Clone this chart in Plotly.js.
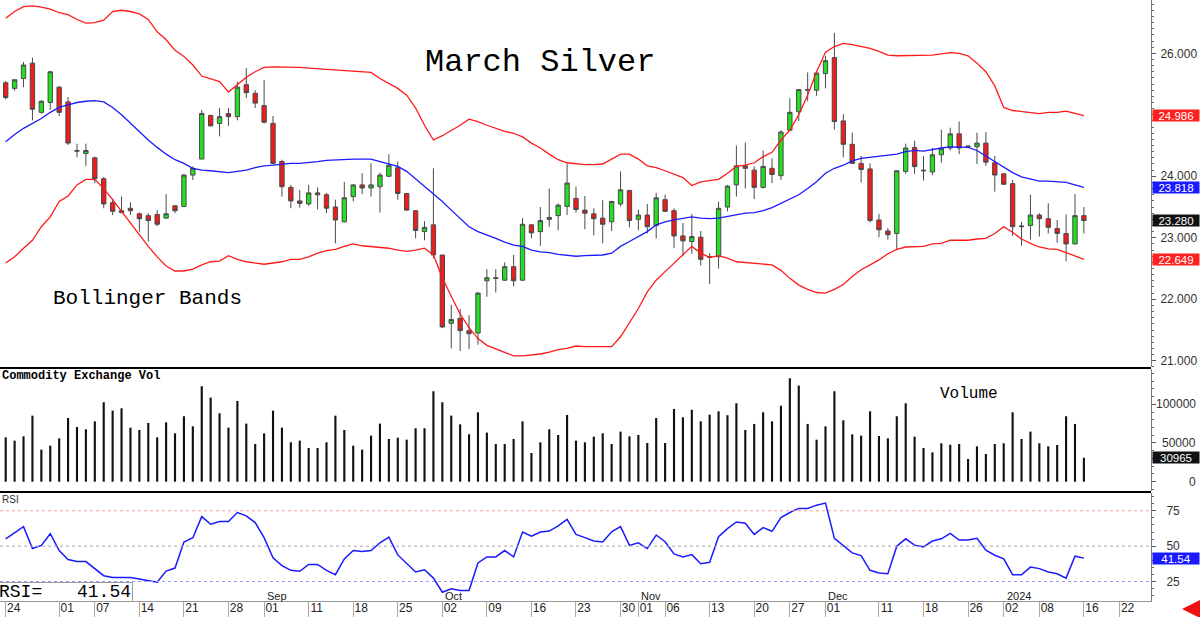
<!DOCTYPE html>
<html><head><meta charset="utf-8">
<script src="https://cdn.plot.ly/plotly-3.0.1.min.js"></script>
<style>html,body{margin:0;padding:0;background:#fff}#chart{width:1200px;height:617px}</style>
</head><body><div id="chart"></div>
<script>
// March Silver daily candles, 24 Jul 2023 .. 16 Jan 2024 (trading days)
const open = [25.52,25.43,25.59,25.84,25.04,25.20,25.45,25.21,24.42,24.37,
24.30,23.96,23.57,23.41,23.48,23.39,23.36,23.38,23.32,23.52,
23.51,24.02,24.28,24.99,24.86,25.02,24.97,25.49,25.35,25.15,
24.86,24.24,23.82,23.60,23.55,23.73,23.70,23.50,23.26,23.67,
23.86,23.81,23.83,24.00,24.14,23.72,23.44,23.10,23.21,22.72,
21.61,21.69,21.49,21.45,22.30,22.35,22.31,22.53,22.31,23.21,
23.10,23.30,23.36,23.51,23.64,23.45,23.39,23.32,23.26,23.55,
23.77,23.30,23.37,23.20,23.62,23.44,23.03,22.94,23.01,22.68,
22.69,23.50,23.86,24.17,24.10,23.82,24.13,24.01,24.75,25.05,
25.40,25.40,25.67,25.93,24.90,24.52,24.21,24.12,23.29,23.11,
23.07,24.08,24.47,24.10,24.07,24.35,24.46,24.69,24.48,24.48,
24.54,24.22,24.04,23.88,23.18,23.20,23.37,23.31,23.15,23.07,
22.90,23.36];
const high = [25.55,25.57,25.86,25.93,25.24,25.71,25.47,25.29,24.53,24.53,
24.32,23.99,23.64,23.67,23.58,23.41,23.40,23.45,23.71,23.53,
24.04,24.16,25.08,25.00,25.11,25.11,25.54,25.76,25.40,25.57,
24.98,24.27,23.86,23.78,23.86,23.82,23.73,23.62,23.91,23.87,
24.05,24.21,24.06,24.36,24.24,23.73,23.45,23.27,24.13,22.72,
21.91,21.84,21.74,22.12,22.49,22.49,22.60,22.72,23.32,23.22,
23.50,23.80,23.56,24.21,23.83,23.68,23.48,23.61,23.60,24.08,
23.78,23.46,23.55,23.73,23.70,23.48,23.24,23.39,23.11,22.75,
23.59,23.86,24.50,24.55,24.16,24.42,24.29,24.75,25.27,25.42,
25.69,25.69,25.96,26.33,25.01,24.71,24.33,24.21,23.39,23.16,
24.10,24.53,24.58,24.33,24.46,24.76,24.79,24.89,24.50,24.71,
24.72,24.33,24.05,23.94,23.26,23.70,23.40,23.56,23.29,23.38,
23.71,23.50];
const low = [25.25,25.39,25.45,24.91,25.02,25.08,24.98,24.51,24.31,24.17,
23.89,23.48,23.37,23.40,23.37,23.10,22.94,23.19,23.31,23.40,
23.50,23.94,24.28,24.81,24.65,24.82,24.91,25.27,25.11,24.86,
24.19,23.67,23.48,23.49,23.52,23.46,23.40,22.91,23.25,23.59,
23.71,23.67,23.41,23.99,23.62,23.44,22.99,22.96,22.67,21.53,
21.20,21.16,21.19,21.26,22.04,22.11,22.30,22.21,22.30,22.99,
22.87,23.18,23.12,23.37,23.41,23.14,23.04,22.91,23.11,23.51,
23.17,23.12,23.07,22.99,23.42,22.83,22.70,22.74,22.55,22.25,
22.50,23.43,23.67,23.80,23.63,23.80,23.89,23.94,24.74,24.90,
25.22,25.31,25.43,24.76,24.31,24.21,23.90,23.25,23.01,22.97,
22.80,24.04,24.04,23.93,24.02,24.22,24.42,24.36,24.46,24.20,
24.17,23.75,23.86,23.03,22.87,22.97,23.02,23.07,22.92,22.62,
22.89,23.07];
const close = [25.28,25.57,25.81,25.09,25.22,25.70,25.04,24.54,24.41,24.42,
23.96,23.55,23.43,23.44,23.44,23.31,23.28,23.22,23.39,23.44,
24.02,24.13,25.02,24.82,24.97,24.97,25.45,25.36,25.19,24.88,
24.21,23.83,23.60,23.56,23.73,23.70,23.48,23.29,23.65,23.86,
23.81,23.86,24.02,24.18,23.72,23.45,23.12,23.17,22.72,21.55,
21.67,21.49,21.44,22.10,22.35,22.34,22.53,22.30,23.22,23.08,
23.28,23.33,23.53,23.89,23.46,23.40,23.31,23.22,23.59,23.78,
23.28,23.37,23.18,23.65,23.43,23.03,22.95,23.02,22.65,22.69,
23.48,23.84,24.17,24.13,23.82,24.16,24.03,24.72,25.04,25.41,
25.41,25.68,25.88,24.89,24.52,24.21,24.11,23.28,23.13,23.05,
24.09,24.46,24.16,24.09,24.35,24.45,24.69,24.46,24.49,24.54,
24.23,24.02,23.87,23.18,23.19,23.37,23.31,23.17,23.07,22.90,
23.36,23.28];
const bbUpper = [26.57,26.68,26.76,26.77,26.75,26.72,26.66,26.63,26.55,26.49,
26.50,26.54,26.68,26.70,26.68,26.64,26.55,26.35,26.22,26.05,
25.95,25.81,25.63,25.58,25.54,25.37,25.49,25.61,25.70,25.77,
25.78,25.78,25.78,25.77,25.76,25.75,25.73,25.72,25.71,25.70,
25.70,25.69,25.59,25.51,25.43,25.32,25.11,24.83,24.59,24.66,
24.74,24.83,24.93,24.89,24.83,24.78,24.73,24.70,24.64,24.54,
24.46,24.36,24.27,24.22,24.20,24.19,24.19,24.20,24.28,24.36,
24.36,24.28,24.17,24.14,24.09,24.04,23.98,23.85,23.91,23.93,
23.95,24.05,24.16,24.18,24.22,24.32,24.39,24.59,24.75,25.00,
25.32,25.70,26.02,26.11,26.16,26.14,26.11,26.08,26.03,25.97,
25.96,25.96,25.97,25.97,25.97,25.99,26.01,26.00,25.96,25.84,
25.70,25.47,25.12,25.07,25.05,25.04,25.02,25.04,25.04,25.06,
25.02,24.986];
const bbMiddle = [24.56,24.68,24.78,24.86,24.94,25.04,25.12,25.16,25.20,25.22,
25.23,25.21,25.12,25.00,24.86,24.73,24.59,24.47,24.36,24.27,
24.21,24.13,24.10,24.09,24.08,24.06,24.08,24.10,24.14,24.17,
24.18,24.20,24.21,24.21,24.22,24.24,24.26,24.27,24.28,24.28,
24.28,24.28,24.24,24.20,24.16,24.08,23.96,23.83,23.71,23.59,
23.45,23.32,23.18,23.10,23.05,22.99,22.93,22.88,22.86,22.80,
22.77,22.76,22.73,22.72,22.70,22.71,22.71,22.72,22.75,22.86,
22.94,23.02,23.10,23.21,23.26,23.29,23.32,23.34,23.32,23.31,
23.32,23.35,23.38,23.40,23.41,23.44,23.49,23.56,23.63,23.70,
23.80,23.91,24.05,24.13,24.18,24.25,24.29,24.31,24.32,24.34,
24.36,24.40,24.42,24.41,24.44,24.46,24.48,24.48,24.47,24.42,
24.33,24.24,24.14,24.06,23.99,23.95,23.92,23.92,23.91,23.90,
23.86,23.818];
const bbLower = [22.59,22.69,22.83,22.96,23.18,23.34,23.59,23.68,23.86,23.95,
23.95,23.80,23.62,23.43,23.24,23.05,22.86,22.69,22.54,22.46,
22.46,22.49,22.56,22.61,22.62,22.71,22.65,22.61,22.59,22.57,
22.59,22.61,22.65,22.65,22.69,22.75,22.79,22.81,22.86,22.90,
22.87,22.86,22.85,22.83,22.80,22.78,22.80,22.83,22.72,22.35,
22.05,21.76,21.54,21.36,21.25,21.19,21.13,21.08,21.08,21.09,
21.11,21.14,21.18,21.20,21.24,21.23,21.23,21.22,21.23,21.39,
21.61,21.85,22.12,22.31,22.45,22.59,22.72,22.86,22.75,22.68,
22.71,22.67,22.61,22.60,22.59,22.57,22.56,22.47,22.34,22.23,
22.16,22.11,22.10,22.16,22.24,22.37,22.48,22.56,22.64,22.74,
22.81,22.85,22.86,22.86,22.90,22.91,22.96,22.96,22.96,22.98,
22.99,23.07,23.18,23.09,22.98,22.91,22.85,22.82,22.81,22.76,
22.71,22.649];
const volume = [57300,53000,58600,85300,41400,46500,56000,82300,70700,67700,
78000,102600,91800,94800,69800,66800,75900,57300,76700,62500,
84500,71500,123300,108600,88400,69800,104300,75000,48700,62500,
91800,69800,50900,53000,43500,43500,50900,85300,66800,46500,
41400,59500,75000,55200,56900,54300,69000,69000,116800,102600,
85300,74100,61200,89600,63400,48700,48700,55200,78000,37100,
50900,67700,60300,86200,53000,50900,58200,62500,48700,64700,
58600,60300,50000,82300,50000,94000,83200,92900,78000,86600,
90900,85800,101300,66800,74600,89600,78000,98100,133600,124100,
74600,54300,71500,116800,79300,61200,59500,90900,59000,56000,
84500,101300,58200,43500,37900,49600,47800,48700,29300,45700,
35800,48700,49600,89600,55200,64700,49600,45700,47400,84500,
74600,30965];
const rsi = [55.2,59.5,63.8,48.3,50.5,58.8,46.9,40.5,39.1,39.1,
34.1,29.1,27.9,27.9,27.9,26.7,25.7,24.5,32.4,34.5,
52.9,56.0,70.9,65.5,67.4,67.4,73.8,71.4,66.7,56.0,
41.7,36.2,32.9,32.2,37.1,37.1,32.9,29.8,41.0,46.9,
46.2,46.9,52.4,56.4,43.8,37.6,31.7,33.3,27.4,17.4,
19.8,18.6,18.6,38.1,42.4,42.4,46.9,42.4,60.0,57.1,
60.0,60.7,64.3,69.0,58.3,56.0,53.6,52.9,60.2,63.8,
50.5,52.4,48.3,57.9,53.1,44.5,42.4,44.0,37.6,38.6,
56.7,62.4,67.1,66.2,58.3,63.1,60.5,70.2,73.8,76.7,
76.7,79.0,80.5,55.5,50.0,45.2,43.3,32.9,31.0,30.5,
50.0,55.2,50.7,49.5,53.6,55.2,59.0,54.3,54.3,55.5,
47.1,43.6,41.0,29.8,29.8,35.2,34.1,31.7,30.5,27.4,
42.9,41.54];
const tickIdx  = [0,6,10,15,20,25,29,34,39,44,49,54,59,64,69,71,74,79,84,88,92,98,103,108,112,116,121,125];
const tickText = ['24','01','07','14','21','28','01','11','18','25','02','09','16','23','30','01','06','13','20','27','01','11','18','26','02','08','16','22'];
const monthIdx  = [29,49,71,92,112];
const monthText = ['Sep','Oct','Nov','Dec','2024'];
const priceTicks = [21,22,23,24,26];   // 25.000 is hidden behind the upper-band tag in the source
const volTicks = [0,50000,100000];
const rsiTicks = [25,50,75];

const x = close.map((_, i) => i);
const last = close.length - 1;
const PW = 1151, PH = 601;            // plot area width / height in px
const px = v => v / PW;               // px -> paper x
const py = v => (PH - v) / PH;        // px from top -> paper y
const sans = 'Liberation Sans, Arial, sans-serif';
const mono = 'Liberation Mono, DejaVu Sans Mono, monospace';

const traces = [
  {type:'candlestick', x:x, open:open, high:high, low:low, close:close, xaxis:'x', yaxis:'y',
   whiskerwidth:0, hoverinfo:'skip',
   increasing:{fillcolor:'#22e022', line:{color:'#4a4a4a', width:1}},
   decreasing:{fillcolor:'#ee1c1c', line:{color:'#4a4a4a', width:1}}},
  {type:'scatter', mode:'lines', x:x, y:bbUpper, yaxis:'y', line:{color:'#ff1a1a', width:1.3}, hoverinfo:'skip'},
  {type:'scatter', mode:'lines', x:x, y:bbMiddle, yaxis:'y', line:{color:'#1a1aff', width:1.3}, hoverinfo:'skip'},
  {type:'scatter', mode:'lines', x:x, y:bbLower, yaxis:'y', line:{color:'#ff1a1a', width:1.3}, hoverinfo:'skip'},
  {type:'bar', x:x, y:volume, yaxis:'y2', width:0.24, marker:{color:'#111', line:{width:0}}, hoverinfo:'skip'},
  {type:'scatter', mode:'lines', x:x, y:rsi, yaxis:'y3', line:{color:'#1a1aff', width:1.5}, hoverinfo:'skip'}
];

const yCommon = {side:'right', anchor:'x', showgrid:false, zeroline:false, showline:true, linecolor:'#777', linewidth:1,
  ticks:'outside', ticklen:4, tickcolor:'#555', tickfont:{family:sans, size:12, color:'#333'}};

const layout = {
  width:1200, height:617, margin:{l:0, r:49, t:0, b:16, pad:0},
  paper_bgcolor:'#fff', plot_bgcolor:'#fff', showlegend:false,
  xaxis:{range:[-0.64, 128.53], anchor:'y3', showgrid:false, zeroline:false, showline:true, linecolor:'#999',
    tickmode:'array', tickvals:tickIdx, ticktext:tickText, ticks:'outside', ticklen:15, tickcolor:'#aaa',
    ticklabelshift:8, ticklabelstandoff:-19, tickfont:{family:sans, size:12, color:'#222'},
    rangeslider:{visible:false}, fixedrange:true},
  yaxis:Object.assign({}, yCommon, {domain:[0.3894, 1], range:[20.899, 26.867], tickmode:'array', tickvals:priceTicks,
    tickformat:'.3f', ticklabelstandoff:2, minor:{ticks:'outside', ticklen:2, dtick:0.1, tickcolor:'#666', showgrid:false}}),
  yaxis2:Object.assign({}, yCommon, {domain:[0.183, 0.386], range:[-12000, 145500], tickmode:'array', tickvals:volTicks,
    showticklabels:false, minor:{ticks:'outside', ticklen:2, dtick:10000, tickcolor:'#666', showgrid:false}}),
  yaxis3:Object.assign({}, yCommon, {domain:[0, 0.1797], range:[11.2, 87.6], tickmode:'array', tickvals:rsiTicks,
    ticklabelstandoff:8, minor:{ticks:'outside', ticklen:2, dtick:5, tickcolor:'#666', showgrid:false}}),
  shapes:[
    {type:'line', xref:'paper', yref:'paper', x0:0, x1:1, y0:py(368), y1:py(368), line:{color:'#000', width:2}},
    {type:'line', xref:'paper', yref:'paper', x0:0, x1:1, y0:py(492), y1:py(492), line:{color:'#000', width:2}},
    {type:'line', xref:'paper', yref:'y3', x0:0, x1:1, y0:75, y1:75, line:{color:'#ff9a9a', width:1, dash:'dot'}},
    {type:'line', xref:'paper', yref:'y3', x0:0, x1:1, y0:50, y1:50, line:{color:'#aaaaaa', width:1, dash:'dot'}},
    {type:'line', xref:'paper', yref:'y3', x0:0, x1:1, y0:25, y1:25, line:{color:'#9a9aff', width:1, dash:'dot'}}
  ],
  annotations:[]
};

const A = layout.annotations;
A.push({xref:'paper', yref:'paper', x:px(540), y:py(62), yanchor:'middle', text:'March Silver', showarrow:false,
  font:{family:mono, size:32, color:'#000'}});
A.push({xref:'paper', yref:'paper', x:px(51), y:py(298), xanchor:'left', yanchor:'middle', text:'Bollinger Bands', showarrow:false,
  font:{family:mono, size:21, color:'#000'}});
A.push({xref:'paper', yref:'paper', x:px(938), y:py(394), xanchor:'left', yanchor:'middle', text:'Volume', showarrow:false,
  font:{family:mono, size:16, color:'#000'}});
A.push({xref:'paper', yref:'paper', x:0, y:py(376), xanchor:'left', yanchor:'middle', text:'<b>Commodity Exchange Vol</b>', showarrow:false,
  font:{family:mono, size:12, color:'#000'}});
A.push({xref:'paper', yref:'paper', x:0, y:py(499), xanchor:'left', yanchor:'middle', text:'RSI', showarrow:false,
  font:{family:sans, size:10, color:'#333'}});
A.push({xref:'paper', yref:'paper', x:px(-2), y:py(592), xanchor:'left', yanchor:'middle', text:'RSI=', showarrow:false,
  width:133, height:18, align:'left', bgcolor:'#fff', bordercolor:'#999', borderwidth:1, borderpad:0,
  font:{family:mono, size:18, color:'#000'}});
A.push({xref:'paper', yref:'paper', x:px(133), y:py(592), xanchor:'right', yanchor:'middle', text:rsi[last].toFixed(2),
  showarrow:false, font:{family:mono, size:18, color:'#000'}});
monthIdx.forEach((m, k) => A.push({xref:'x', yref:'paper', x:m, y:py(596), xanchor:'left', xshift:1, yanchor:'middle',
  text:monthText[k], showarrow:false, font:{family:sans, size:11, color:'#222'}}));
volTicks.forEach(v => A.push({xref:'paper', yref:'y2', x:px(1198), y:v, xanchor:'right', yanchor:'middle',
  text:String(v), showarrow:false, font:{family:sans, size:12, color:'#333'}}));
function tag(yref, y, txt, bg){
  A.push({xref:'paper', yref:yref, x:1, xshift:1, y:y, xanchor:'left', yanchor:'middle', text:txt, showarrow:false,
    width:46, height:11, bgcolor:bg, borderpad:0, font:{family:sans, size:11.5, color:'#fff'}});
}
tag('y', bbUpper[last], bbUpper[last].toFixed(3), '#ff2020');
tag('y', bbMiddle[last], bbMiddle[last].toFixed(3), '#1a1aff');
tag('y', close[last], close[last].toFixed(3), '#111');
tag('y', bbLower[last], bbLower[last].toFixed(3), '#ff2020');
tag('y2', volume[last], String(volume[last]), '#111');
tag('y3', rsi[last], rsi[last].toFixed(2), '#1a1aff');
A.push({xref:'paper', yref:'paper', x:px(1182), y:py(609), ax:16, ay:0, text:'', showarrow:true,
  arrowhead:2, arrowsize:0.9, arrowwidth:4, arrowcolor:'#ee1111'});

Plotly.newPlot('chart', traces, layout, {staticPlot:true, displayModeBar:false});
</script></body></html>
